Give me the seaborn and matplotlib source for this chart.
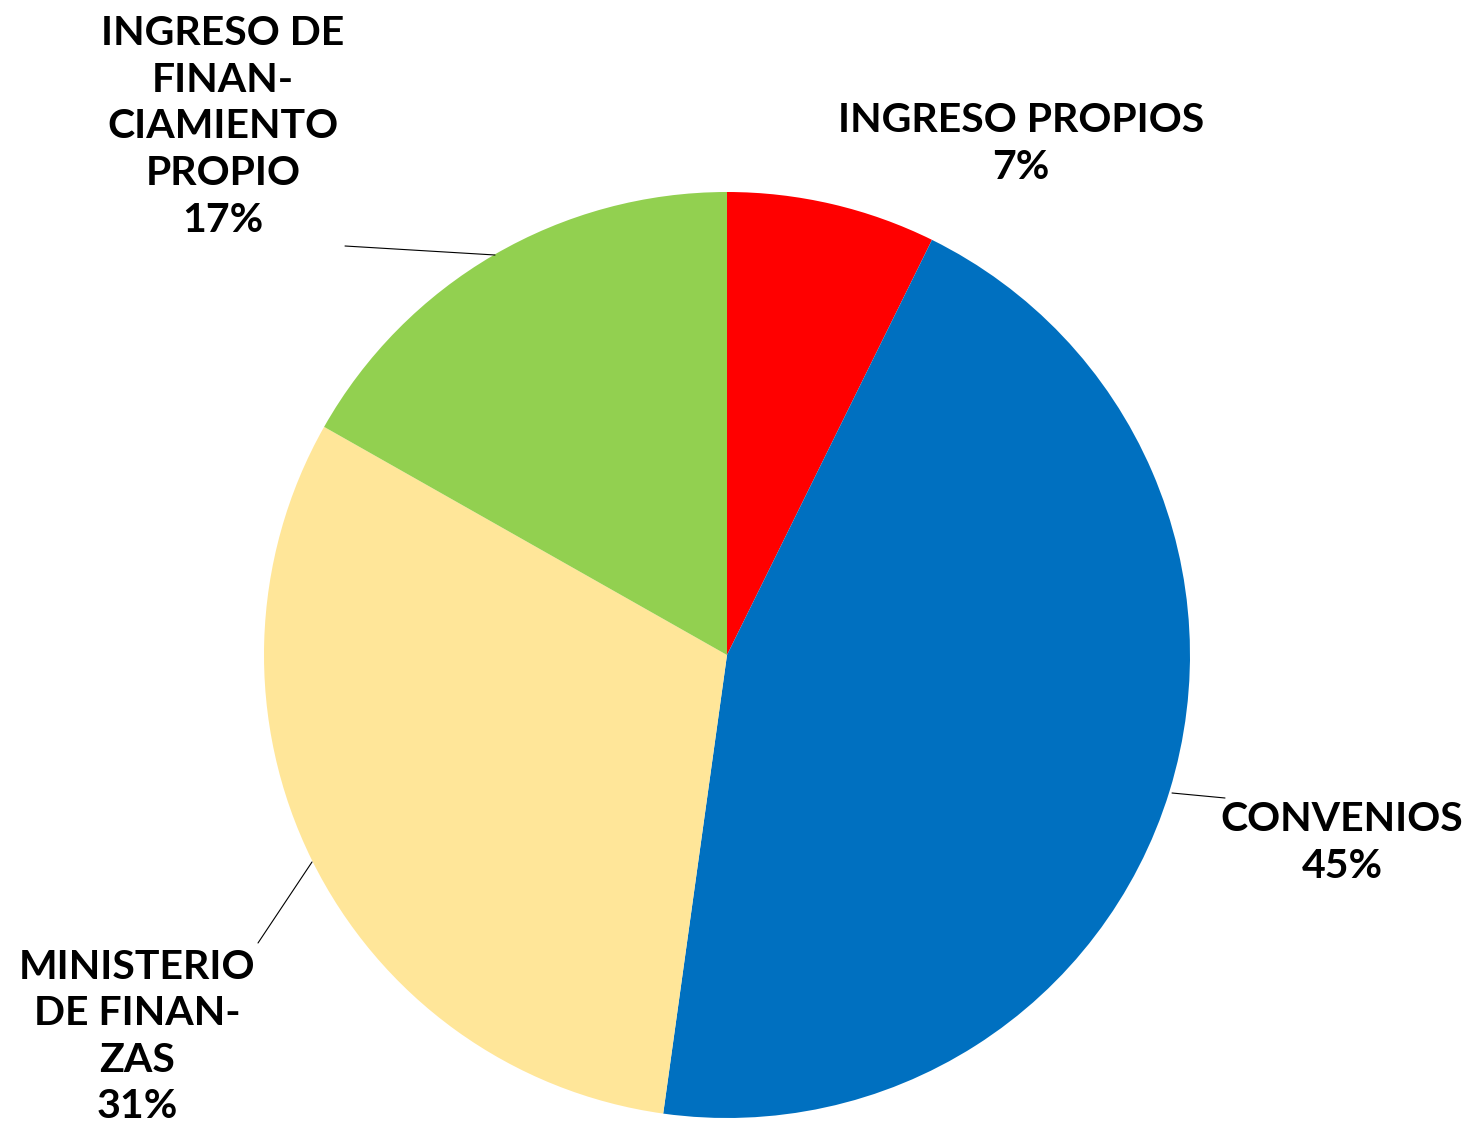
import matplotlib
matplotlib.use("Agg")
import matplotlib.pyplot as plt
import seaborn as sns

categories = ["INGRESO PROPIOS", "CONVENIOS", "MINISTERIO\nDE FINAN-\nZAS", "INGRESO DE\nFINAN-\nCIAMIENTO\nPROPIO"]
values = [7.3, 44.9, 31.0, 16.8]
colors = ["#FF0000", "#0070C0", "#FFE699", "#92D050"]

sns.set_theme(style="white")
plt.rcParams['font.family'] = ['Lato', 'DejaVu Sans']

W, H, DPI = 1469, 1127, 100
fig = plt.figure(figsize=(W / DPI, H / DPI), dpi=DPI)
ax = fig.add_axes([0, 0, 1, 1])

cx, cy, R = 727, 655, 463
ax.pie(values, colors=colors, startangle=90, counterclock=False, radius=1,
       center=(0, 0), wedgeprops=dict(linewidth=0))
ax.set_xlim(-cx / R, (W - cx) / R)
ax.set_ylim(-(H - cy) / R, cy / R)
ax.set_aspect('equal')
ax.axis('off')

def px(x, y):
    return ((x - cx) / R, (cy - y) / R)

total = sum(values)
label_pos = [(1021, 144), (1342, 843), (137, 1037), (223, 127)]
leaders = [None, ((1172, 793), (1225, 798)), ((312, 862), (258, 943)), ((495, 255), (345, 246))]

for cat, v, pos, ld in zip(categories, values, label_pos, leaders):
    txt = f"{cat}\n{round(v / total * 100):.0f}%"
    ax.text(*px(*pos), txt, ha='center', va='center', fontsize=29.5,
            fontweight='bold', linespacing=1.32, color='black')
    if ld is not None:
        (x1, y1), (x2, y2) = ld
        p1, p2 = px(x1, y1), px(x2, y2)
        ax.plot([p1[0], p2[0]], [p1[1], p2[1]], color='black', lw=0.8)

fig.savefig("out.png", dpi=DPI, facecolor='white')
